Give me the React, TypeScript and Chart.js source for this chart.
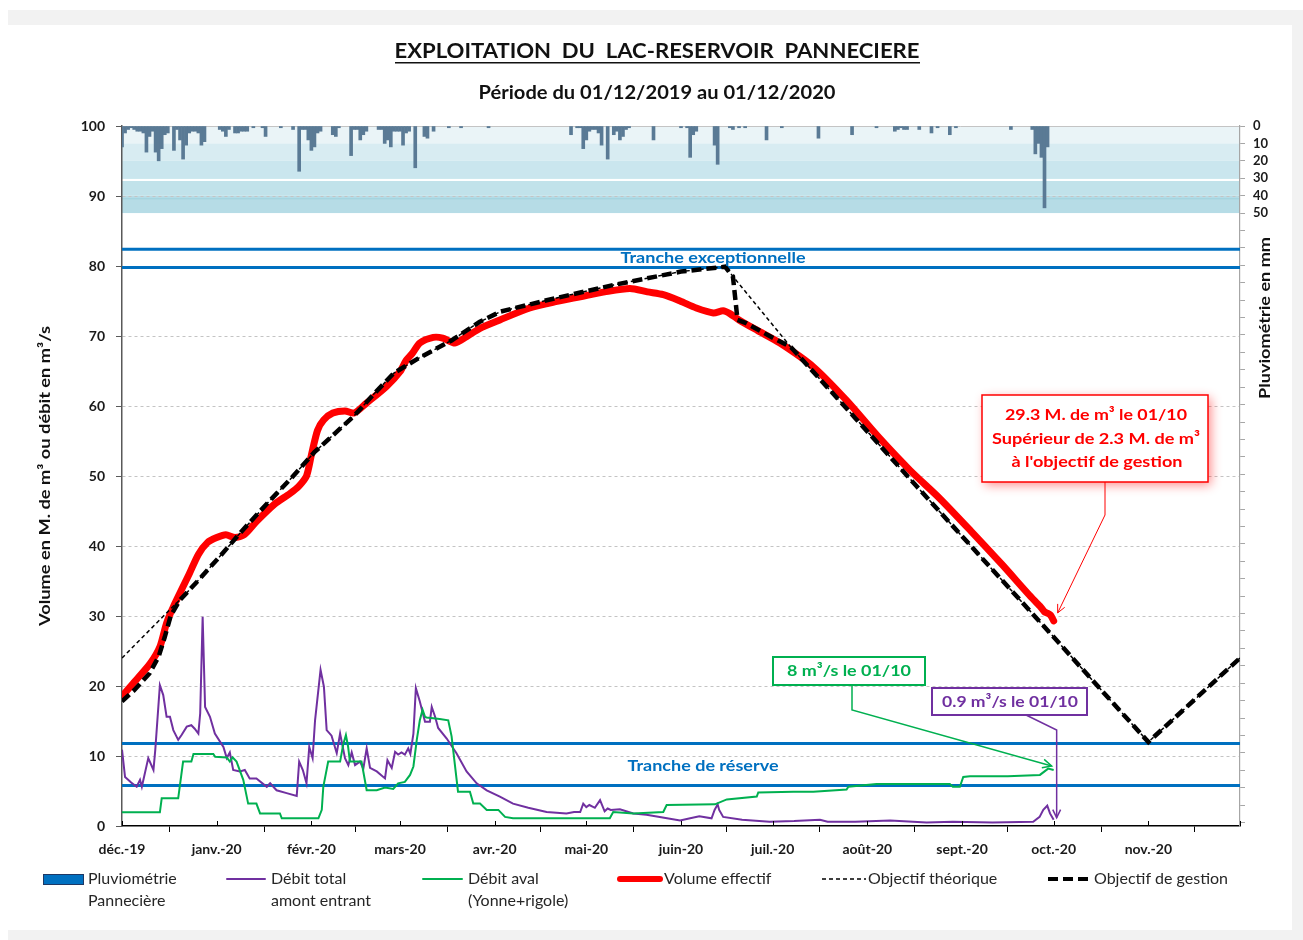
import React, { useEffect, useRef } from "react";
import { Chart, registerables } from "chart.js";

Chart.register(...registerables);

const FONT = 'Lato, "Open Sans", "Noto Sans", sans-serif';

// ---------- axes ----------
const monthTickDays = [0, 31, 62, 91, 122, 152, 183, 213, 244, 275, 305, 336, 366];
const monthTickLabels = ["déc.-19", "janv.-20", "févr.-20", "mars-20", "avr.-20", "mai-20", "juin-20", "juil.-20", "août-20", "sept.-20", "oct.-20", "nov.-20", ""];
const pluieAxisMax = 402;
const pluieLabelMax = 50;
const pluieBandEdges = [0, 10, 20, 30, 40, 50];

// ---------- data (x = jours depuis le 01/12/2019) ----------
const pluieDays = [0, 1, 2, 3, 4, 5, 6, 7, 8, 9, 10, 11, 12, 13, 14, 15, 17, 18, 19, 20, 21, 22, 23, 24, 25, 26, 27,
  32, 33, 34, 35, 37, 38, 39, 40, 41, 43, 46, 47, 52, 56, 58, 59, 60, 61, 62, 63, 64, 65, 69, 70, 71, 75, 76, 77, 78, 79, 80,
  84, 85, 86, 87, 88, 89, 90, 91, 92, 93, 94, 96, 99, 100, 102, 107, 111, 120,
  147, 149, 150, 151, 152, 153, 154, 155, 156, 157, 159, 161, 162, 163, 164, 165, 166, 174, 183, 185, 186, 187, 188,
  194, 195, 199, 200, 202, 204, 211, 216, 228, 239, 247, 253, 254, 255, 256, 257, 261, 265, 267, 271, 273, 291,
  298, 299, 300, 301, 302, 303];
const pluieMm = [12, 4, 2, 1, 2, 3, 3, 4, 15, 6, 3, 15, 20, 13, 5, 4, 14, 2, 8, 19, 11, 4, 3, 3, 4, 11, 9,
  2, 3, 6, 2, 4, 4, 3, 3, 3, 1, 1, 6, 1, 2, 26, 2, 2, 8, 14, 12, 4, 3, 5, 6, 1, 17, 2, 2, 8, 5, 3,
  2, 2, 10, 8, 12, 3, 3, 3, 11, 4, 3, 24, 6, 7, 3, 1, 1, 1,
  5, 1, 1, 13, 8, 3, 2, 2, 4, 11, 19, 5, 3, 8, 6, 2, 1, 8, 1, 1, 18, 5, 3,
  11, 22, 1, 2, 1, 1, 8, 1, 7, 5, 1, 3, 2, 1, 2, 2, 2, 4, 1, 5, 1, 2,
  2, 16, 10, 18, 47, 12];

const entrantDays = [0, 1, 3, 4.8, 5.9, 6.5, 8.6, 10.3, 10.9, 12.4, 13.5, 14.6, 15.7, 16.8, 18.4, 19.5, 21.2, 22.7, 23.8, 25, 25.6, 26.4, 27.2, 28.8, 30.4,
  33.2, 34.3, 35.3, 36.4, 38.6, 40.2, 41.8, 44, 47.4, 48.5, 50.6, 53.9, 57.2, 58, 59.2, 60.4, 61.3, 62.4, 63.2, 65, 66.1, 67, 68.6, 70.3, 71.4,
  73, 74.1, 75.2, 76.3, 77.9, 79, 80.1, 81.2, 83.4, 86.1, 86.9, 88.3, 89.4, 90.4, 91.5, 92.6, 93.7, 94.4, 95.4, 96.2, 97.5, 99.2, 100.8, 101.4,
  102.5, 103.5, 106.3, 109.5, 112.8, 116.1, 119.4, 123.7, 128, 133, 139, 145.5, 148, 150, 151, 152, 153, 154.8, 156.5, 158, 159, 160, 163,
  167.4, 171.7, 177, 182.7, 186, 189, 193, 194, 195, 195.5, 196.8, 203, 212, 220, 228.5, 231, 240, 251.5, 263.4, 272, 285, 298.3, 300.4,
  301.6, 302.9, 303.8, 305];
const entrantValues = [10.9, 7, 6.2, 5.6, 6.6, 5.6, 9.7, 8, 10.9, 20.1, 18.7, 15.6, 15.6, 13.7, 12.3, 13, 14.2, 14.4, 13.9, 13.2, 16.1, 29.9, 17, 15.6, 13.2,
  11.3, 9.7, 10.5, 8, 7.8, 8, 6.8, 6.8, 5.6, 6.1, 5.1, 4.7, 4.3, 9.2, 8, 6.1, 11.3, 9.7, 15.1, 22.3, 19.9, 13.7, 12.9, 10.4, 13.2,
  9.7, 8.7, 10.5, 8.7, 9.2, 8.2, 11.1, 8.3, 7.8, 6.8, 9.4, 8.3, 10.6, 10.2, 10.5, 10.2, 11.1, 10.3, 13.2, 19.7, 17.8, 14.9, 14.9, 17,
  15.6, 14, 12.5, 10.4, 7.8, 6.1, 5.1, 4.2, 3.2, 2.6, 2, 1.8, 2, 2, 3.2, 2.7, 3, 2.6, 3.7, 2.1, 2.5, 2.3, 2.4,
  1.8, 1.6, 1.2, 0.8, 1.1, 1.4, 1.1, 2.3, 3.1, 2.3, 1.3, 0.9, 0.6, 0.7, 0.9, 0.6, 0.6, 0.8, 0.5, 0.6, 0.5, 0.6, 1.3,
  2.3, 2.9, 1.8, 0.9];

const avalDays = [0, 12.4, 13, 18.4, 20, 22.7, 23.4, 29.9, 30.5, 34.3, 35.3, 36.2, 37.5, 39.7, 41.3, 44, 45.2, 51.7, 52.3, 64.3, 65.4, 65.9, 67.5,
  71.4, 72.4, 73.3, 74, 74.6, 78.4, 80.1, 83.4, 86.1, 88.8, 90.4, 92.6, 94.3, 95.4, 96.5, 97.5, 98.4, 99.2, 99.7, 104, 106.8, 107.9, 110,
  113.9, 115, 117.2, 119.4, 123.2, 125.4, 128, 159.7, 160.8, 167.4, 177.2, 178.3, 194.1, 198, 207.8, 208.3, 219.8, 226.3, 237.2, 237.8,
  247, 271, 272, 274.3, 275.4, 277.6, 290, 300.5, 303.2, 305];
const avalValues = [1.95, 1.95, 3.95, 3.95, 9.2, 9.2, 10.3, 10.3, 9.9, 9.8, 9.2, 9.8, 9.2, 6.6, 3.2, 3.2, 1.8, 1.8, 1.1, 1.1, 2.3, 5.6, 9.2,
  9.2, 11.6, 13, 11.4, 9.2, 9.2, 5.1, 5.1, 5.5, 5.3, 6.1, 6.3, 7.3, 8.5, 12.3, 15.1, 16.6, 15.6, 15.5, 15.3, 15.1, 12.8, 4.9,
  4.9, 3.2, 3.2, 2.3, 2.3, 1.3, 1.1, 1.1, 2, 1.8, 2, 3, 3.1, 3.8, 4.2, 4.8, 4.9, 4.9, 5.2, 5.6,
  6, 6, 5.6, 5.6, 7, 7.1, 7.1, 7.3, 8.2, 8];

const volumeDays = [0, 3.7, 9.2, 12.4, 14.6, 16.8, 20, 22, 25, 28, 31, 34, 37, 40, 44, 50, 55, 58, 60.4, 62, 64, 66, 69, 73, 76, 80, 86.6,
  91, 93, 95, 97.5, 101.9, 105, 109, 112.8, 117.2, 123.7, 133.5, 142, 150, 158, 166.3, 172, 177.2, 182.7, 188, 193.6, 196.8, 199, 202,
  208, 215.4, 226.3, 237.2, 248, 258, 267.7, 278, 288, 297, 300.5, 302, 303, 304, 305];
const volumeValues = [18.5, 20.4, 23.2, 25.6, 29, 31.3, 34.2, 36, 38.8, 40.5, 41.2, 41.6, 41.2, 41.6, 43.5, 46, 47.5, 48.6, 50, 53, 56.5, 58, 59, 59.3, 59, 60.4, 62.8,
  64.9, 66.5, 67.5, 69, 69.8, 69.7, 69, 69.9, 71.1, 72.3, 74, 74.9, 75.6, 76.3, 76.8, 76.3, 75.9, 75, 74, 73.3, 73.6, 73.2, 72.3,
  70.8, 69, 65.6, 60.8, 55.4, 50.8, 46.8, 42.1, 37.4, 33, 31.4, 30.6, 30.4, 30.1, 29.3];

const gestionDays = [0, 4, 9, 12, 14, 16, 19, 25, 32, 40, 48, 55, 63, 70, 76, 82, 89, 97, 108, 117, 124, 139, 161, 183, 197.4,
  200, 201.5, 204.5, 212, 219, 240, 260, 280, 300, 305, 320, 336, 351, 366];
const gestionValues = [17.8, 19.4, 21.8, 24.2, 27, 30.1, 32.3, 35.1, 38.5, 42.5, 46.3, 49.5, 53.4, 56.2, 58.6, 61.5, 64.7, 66.8, 69.4, 72, 73.5, 75.1, 77.3, 79.2, 79.9,
  78.5, 72.3, 71.8, 70, 68.4, 58.3, 48.6, 39, 29.4, 27, 19.7, 12, 18, 24];

const theoriqueDays = [0, 17, 19, 25, 32, 40, 48, 55, 63, 70, 76, 82, 89, 97, 108, 117, 124, 139, 161, 183, 197.4,
  219, 240, 260, 280, 300, 305, 320, 336, 351, 366];
const theoriqueValues = [24, 31.5, 32.3, 35.1, 38.5, 42.5, 46.3, 49.5, 53.4, 56.2, 58.6, 61.5, 64.7, 66.8, 69.4, 72, 73.5, 75.1, 77.3, 79.2, 79.9,
  68.4, 58.3, 48.6, 39, 29.4, 27, 19.7, 12, 18, 24];

const trancheLevels = [82.4, 79.8, 11.8, 5.8];
const periodSpan = [0, 366];

const annotationDay = 305;
const volumeAnnot = 29.3;
const avalAnnot = 8;
const entrantAnnot = 0.9;

// ---------- styles ----------
const BLUE = "#0070c0";
const PURPLE = "#7030a0";
const GREEN = "#00b050";
const RED = "#ff0000";
const BAR = "#5a7a95";
const BAND_COLORS = ["#eaf4f7", "#d8ecf2", "#cae6ee", "#c1e2ea", "#b6dce6"];

const toXY = (xs: number[], ys: number[]) => xs.map((x, i) => ({ x, y: ys[i] }));

function fitText(ctx: CanvasRenderingContext2D, text: string, x: number, y: number, font: string, targetW: number, color: string, rot = 0) {
  ctx.save();
  ctx.font = font;
  const w = ctx.measureText(text).width;
  ctx.translate(x, y);
  if (rot) ctx.rotate(rot);
  ctx.scale(targetW / w, 1);
  ctx.fillStyle = color;
  ctx.textAlign = "center";
  ctx.textBaseline = "middle";
  ctx.fillText(text, 0, 0);
  ctx.restore();
}

function openArrow(ctx: CanvasRenderingContext2D, fx: number, fy: number, tx: number, ty: number, size: number) {
  const a = Math.atan2(ty - fy, tx - fx);
  ctx.beginPath();
  ctx.moveTo(tx - size * Math.cos(a - 0.45), ty - size * Math.sin(a - 0.45));
  ctx.lineTo(tx, ty);
  ctx.lineTo(tx - size * Math.cos(a + 0.45), ty - size * Math.sin(a + 0.45));
  ctx.stroke();
}

const bandsPlugin = {
  id: "bands",
  beforeDraw(chart: any) {
    const { ctx, chartArea: a, scales } = chart;
    const y2 = scales.y2;
    ctx.save();
    for (let i = 0; i < pluieBandEdges.length - 1; i++) {
      const t = y2.getPixelForValue(pluieBandEdges[i]);
      const b = y2.getPixelForValue(pluieBandEdges[i + 1]);
      ctx.fillStyle = BAND_COLORS[i];
      ctx.fillRect(a.left, t, a.right - a.left, b - t);
    }
    ctx.fillStyle = "#ffffff";
    ctx.fillRect(a.left, y2.getPixelForValue(31) - 1, a.right - a.left, 2);
    ctx.fillStyle = "#9fd2de";
    ctx.fillRect(a.left, y2.getPixelForValue(41.5), a.right - a.left, 1);
    ctx.restore();
  },
};

const decorPlugin = {
  id: "decor",
  afterDraw(chart: any) {
    const { ctx, chartArea: a, scales } = chart;
    const x = scales.x;
    const y = scales.y;
    ctx.save();

    // upward part of x ticks
    ctx.strokeStyle = "#000";
    ctx.lineWidth = 1;
    x.ticks.forEach((t: any) => {
      const px = Math.round(x.getPixelForValue(t.value)) + 0.5;
      ctx.beginPath();
      ctx.moveTo(px, a.bottom - 5);
      ctx.lineTo(px, a.bottom);
      ctx.stroke();
    });

    // titles
    fitText(ctx, "EXPLOITATION  DU  LAC-RESERVOIR  PANNECIERE", 657, 52, `bold 20px ${FONT}`, 525, "#111");
    ctx.fillStyle = "#111";
    ctx.fillRect(395, 62, 525, 1.5);
    fitText(ctx, "Période du 01/12/2019 au 01/12/2020", 657, 93, `bold 18px ${FONT}`, 357, "#111");

    // axis titles
    fitText(ctx, "Volume en M. de m³ ou débit en m³/s", 45, 476, `bold 15px ${FONT}`, 300, "#111", -Math.PI / 2);
    fitText(ctx, "Pluviométrie en mm", 1265, 318, `bold 15px ${FONT}`, 162, "#111", -Math.PI / 2);

    // tranche labels
    fitText(ctx, "Tranche exceptionnelle", 713, 258, `bold 16px ${FONT}`, 185, BLUE);
    fitText(ctx, "Tranche de réserve", 703, 766, `bold 16px ${FONT}`, 151, BLUE);

    const ax = x.getPixelForValue(annotationDay);

    // green annotation
    ctx.fillStyle = "#fff";
    ctx.fillRect(773, 657, 152, 28);
    ctx.strokeStyle = GREEN;
    ctx.lineWidth = 2;
    ctx.strokeRect(773, 657, 152, 28);
    fitText(ctx, "8 m³/s le 01/10", 849, 671, `bold 16px ${FONT}`, 124, GREEN);
    const gTipX = ax - 2;
    const gTipY = y.getPixelForValue(avalAnnot) - 4;
    ctx.lineWidth = 1.5;
    ctx.beginPath();
    ctx.moveTo(852, 685);
    ctx.lineTo(852, 710);
    ctx.lineTo(gTipX, gTipY);
    ctx.stroke();
    openArrow(ctx, 852, 710, gTipX, gTipY, 10);

    // purple annotation
    ctx.fillStyle = "#fff";
    ctx.fillRect(932, 688, 155, 27);
    ctx.strokeStyle = PURPLE;
    ctx.lineWidth = 2;
    ctx.strokeRect(932, 688, 155, 27);
    fitText(ctx, "0.9 m³/s le 01/10", 1010, 702, `bold 16px ${FONT}`, 136, PURPLE);
    const pTipX = ax + 3;
    const pTipY = y.getPixelForValue(entrantAnnot) - 2;
    ctx.lineWidth = 1.5;
    ctx.beginPath();
    ctx.moveTo(1026, 715);
    ctx.lineTo(pTipX, 730);
    ctx.lineTo(pTipX, pTipY);
    ctx.stroke();
    openArrow(ctx, pTipX, 730, pTipX, pTipY, 9);

    // red annotation
    ctx.save();
    ctx.shadowColor = "rgba(255,0,0,0.45)";
    ctx.shadowBlur = 10;
    ctx.shadowOffsetX = 3;
    ctx.shadowOffsetY = 3;
    ctx.fillStyle = "#fff";
    ctx.fillRect(982, 395, 226, 87);
    ctx.restore();
    ctx.strokeStyle = RED;
    ctx.lineWidth = 1.5;
    ctx.strokeRect(982, 395, 226, 87);
    fitText(ctx, "29.3 M. de m³ le 01/10", 1096, 415, `bold 16px ${FONT}`, 182, RED);
    fitText(ctx, "Supérieur de 2.3 M. de m³", 1096, 439, `bold 16px ${FONT}`, 208, RED);
    fitText(ctx, "à l'objectif de gestion", 1097, 462, `bold 16px ${FONT}`, 171, RED);
    const rTipX = ax + 4;
    const rTipY = y.getPixelForValue(volumeAnnot) - 8;
    ctx.lineWidth = 1;
    ctx.beginPath();
    ctx.moveTo(1105, 482);
    ctx.lineTo(1105, 515);
    ctx.lineTo(rTipX, rTipY);
    ctx.stroke();
    openArrow(ctx, 1105, 515, rTipX, rTipY, 9);

    // legend
    const ly1 = 879;
    const ly2 = 901;
    const lf = `16px ${FONT}`;
    ctx.font = lf;
    ctx.textAlign = "left";
    ctx.textBaseline = "middle";
    const txt = (s: string, tx: number, ty: number) => {
      ctx.fillStyle = "#262626";
      ctx.fillText(s, tx, ty);
    };
    ctx.fillStyle = BLUE;
    ctx.fillRect(43, ly1 - 5, 40, 10);
    ctx.strokeStyle = "#1f3864";
    ctx.lineWidth = 1;
    ctx.strokeRect(43.5, ly1 - 4.5, 40, 10);
    txt("Pluviométrie", 88, ly1);
    txt("Pannecière", 88, ly2);

    const seg = (x1: number, x2: number, color: string, w: number, dash: number[]) => {
      ctx.save();
      ctx.strokeStyle = color;
      ctx.lineWidth = w;
      ctx.setLineDash(dash);
      ctx.lineCap = dash.length ? "butt" : "round";
      ctx.beginPath();
      ctx.moveTo(x1, ly1);
      ctx.lineTo(x2, ly1);
      ctx.stroke();
      ctx.restore();
    };
    seg(227, 265, PURPLE, 2, []);
    txt("Débit total", 271, ly1);
    txt("amont entrant", 271, ly2);
    seg(423, 462, GREEN, 2, []);
    txt("Débit aval", 468, ly1);
    txt("(Yonne+rigole)", 468, ly2);
    seg(620, 660, RED, 6, []);
    txt("Volume effectif", 664, ly1);
    seg(822, 866, "#000", 1.5, [4, 3]);
    txt("Objectif théorique", 868, ly1);
    seg(1048, 1092, "#000", 4, [10, 5]);
    txt("Objectif de gestion", 1094, ly1);

    ctx.restore();
  },
};

export default function App() {
  const ref = useRef<HTMLCanvasElement | null>(null);

  useEffect(() => {
    if (!ref.current) return;
    const lineBase = { pointRadius: 0, fill: false, yAxisID: "y" };
    const chart = new Chart(ref.current, {
      type: "line",
      data: {
        datasets: [
          { ...lineBase, label: "Objectif de gestion", data: toXY(gestionDays, gestionValues), borderColor: "#000", borderWidth: 4.5, borderDash: [10, 5], order: 0 },
          { ...lineBase, label: "Objectif théorique", data: toXY(theoriqueDays, theoriqueValues), borderColor: "#000", borderWidth: 1.5, borderDash: [4, 3], order: 1 },
          { ...lineBase, label: "Volume effectif", data: toXY(volumeDays, volumeValues), borderColor: RED, borderWidth: 7, tension: 0.25, borderCapStyle: "round", borderJoinStyle: "round", order: 2 },
          { ...lineBase, label: "Débit aval (Yonne+rigole)", data: toXY(avalDays, avalValues), borderColor: GREEN, borderWidth: 2, order: 3 },
          { ...lineBase, label: "Débit total amont entrant", data: toXY(entrantDays, entrantValues), borderColor: PURPLE, borderWidth: 2, order: 4 },
          ...trancheLevels.map((lv, i) => ({
            ...lineBase,
            label: "tranche" + i,
            data: periodSpan.map((d) => ({ x: d, y: lv })),
            borderColor: BLUE,
            borderWidth: 3,
            order: 5,
          })),
          {
            type: "bar",
            label: "Pluviométrie Pannecière",
            data: toXY(pluieDays, pluieMm),
            yAxisID: "y2",
            backgroundColor: BAR,
            borderWidth: 0,
            barThickness: 3,
            order: 6,
          } as any,
        ],
      },
      options: {
        animation: false,
        responsive: false,
        devicePixelRatio: 1,
        events: [],
        layout: { padding: { top: 126, left: 0, right: 0, bottom: 0 } },
        plugins: { legend: { display: false }, tooltip: { enabled: false }, title: { display: false } },
        scales: {
          x: {
            type: "linear",
            min: 0,
            max: 366,
            offset: false,
            afterFit: (s: any) => { s.height = 114; },
            afterBuildTicks: (s: any) => { s.ticks = monthTickDays.map((v) => ({ value: v })); },
            ticks: {
              autoSkip: false,
              maxRotation: 0,
              padding: 9,
              color: "#1a1a1a",
              font: { family: FONT, size: 14, weight: "bold" },
              callback: (_v: any, i: number) => monthTickLabels[i],
            },
            grid: { display: true, drawOnChartArea: false, tickLength: 6, tickColor: "#000", tickWidth: 1 },
            border: { color: "#000", width: 1.5 },
          },
          y: {
            type: "linear",
            position: "left",
            min: 0,
            max: 100,
            afterFit: (s: any) => { s.width = 122; },
            ticks: { stepSize: 10, padding: 11, color: "#1a1a1a", font: { family: FONT, size: 14, weight: "bold" } },
            grid: {
              color: (c: any) => (c.tick && c.tick.value === 0 ? "rgba(0,0,0,0)" : "#c4c4c4"),
              lineWidth: 1,
              tickLength: 6,
              tickColor: "#595959",
            },
            border: { color: "#595959", width: 1.5, dash: (c: any) => (c.tick && c.tick.value === 100 ? [] : [3, 3]) } as any,
          },
          y2: {
            type: "linear",
            position: "right",
            reverse: true,
            min: 0,
            max: pluieAxisMax,
            afterFit: (s: any) => { s.width = 63; },
            afterBuildTicks: (s: any) => {
              const t = [];
              for (let v = 0; v <= 400; v += 10) t.push({ value: v });
              s.ticks = t;
            },
            ticks: {
              autoSkip: false,
              padding: 8,
              color: "#1a1a1a",
              font: { family: FONT, size: 13, weight: "bold" },
              callback: (v: any) => (Number(v) <= pluieLabelMax ? String(v) : ""),
            },
            grid: { drawOnChartArea: false, tickLength: 5, tickColor: "#a6a6a6" },
            border: { color: "#a6a6a6", width: 1.2 },
          },
        },
      } as any,
      plugins: [bandsPlugin, decorPlugin],
    });
    return () => chart.destroy();
  }, []);

  return (
    <div style={{ position: "absolute", left: 0, top: 0, width: 1303, height: 940, background: "#fff", overflow: "hidden" }}>
      <div style={{ position: "absolute", left: 8, top: 10, width: 1295, height: 930, background: "#f2f2f2" }} />
      <div style={{ position: "absolute", left: 8, top: 25, width: 1284, height: 905, background: "#fff" }} />
      <canvas ref={ref} width={1303} height={940} style={{ position: "absolute", left: 0, top: 0, width: 1303, height: 940 }} />
    </div>
  );
}
